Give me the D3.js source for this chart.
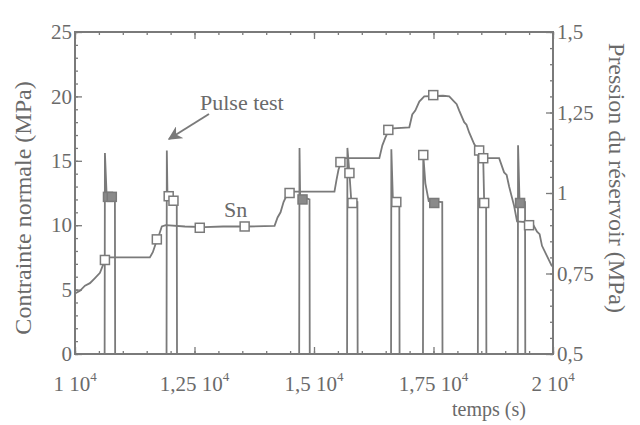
<!DOCTYPE html>
<html><head><meta charset="utf-8">
<script src="https://cdn.jsdelivr.net/npm/d3@7"></script>
<style>
body{margin:0;background:#fff;}
svg{display:block;}
text{font-family:"Liberation Serif","DejaVu Serif",serif;fill:#6a6a6a;}
</style></head><body>
<svg id="c" width="640" height="425"></svg>
<script>
// ---- data ----
const xTicks = [10000, 12500, 15000, 17500, 20000];
const xTickLabels = ["1 10", "1,25 10", "1,5 10", "1,75 10", "2 10"];
const yLeftTicks = [0, 5, 10, 15, 20, 25];
const yLeftLabels = ["0", "5", "10", "15", "20", "25"];
const yRightTicks = [0.5, 0.75, 1, 1.25, 1.5];
const yRightLabels = ["0,5", "0,75", "1", "1,25", "1,5"];

// Contrainte normale Sn (time s, MPa)
const snT = [10000,10104,10209,10313,10418,10522,10585,10647,11566,11628,11691,11754,11816,11900,12300,12700,13100,13600,14175,14238,14300,14363,14426,14509,15428,15470,15512,15574,15637,16367,16430,16493,16576,16994,17056,17119,17203,17307,17700,17829,17933,17985,18038,18142,18190,18246,18351,18455,18559,18873,18977,19030,19082,19186,19248,19562,19666,19720,19770,19875,19979];
const snV = [4.7,4.9,5.3,5.5,5.9,6.3,6.9,7.5,7.5,7.9,8.6,9.2,9.9,10.0,9.9,9.85,9.9,9.9,9.95,10.6,11.0,11.8,12.3,12.6,12.6,13.5,14.3,15.0,15.2,15.2,16.2,16.8,17.5,17.6,18.6,18.9,19.6,20.0,20.05,20.0,19.6,19.4,18.9,18.0,17.8,17.2,16.3,15.7,15.2,15.2,14.1,13.9,13.0,11.5,10.3,10.2,9.5,9.3,8.4,7.6,6.8];
const snMarkT = [10626,11712,12610,13549,14489,15553,16555,17495,18455,19499];
const snMarkV = [7.3,8.9,9.8,9.9,12.5,14.9,17.4,20.1,15.8,10.0];

// Pression du réservoir (time s, MPa)
const pT = [10000,10620,10626,10660,10700,10835,10840,
  11915,11921,11935,12000,12060,12129,12134,
  14690,14697,14710,14906,14911,
  15692,15699,15741,15780,15908,15913,
  16612,16618,16650,16785,16790,
  17280,17286,17330,17400,17683,17688,
  18428,18434,18455,18540,18560,18601,18606,
  19263,19269,19300,19415,19420,20000];
const pV = [0.5,0.5,1.124,1.0,0.988,0.988,0.5,
  0.5,1.132,0.99,0.985,0.975,0.975,0.5,
  0.5,1.14,0.99,0.98,0.5,
  0.5,1.14,1.062,0.975,0.972,0.5,
  0.5,1.136,0.98,0.975,0.5,
  0.5,1.118,1.03,0.975,0.972,0.5,
  0.5,1.14,1.13,1.108,0.972,0.972,0.5,
  0.5,1.148,0.975,0.972,0.5,0.5];
const pMarkT = [10690,10770,11960,12060,14760,15741,15804,16722,17286,17516,18540,18560,19311];
const pMarkV = [0.988,0.988,0.99,0.976,0.98,1.062,0.969,0.972,1.118,0.969,1.108,0.969,0.969];
const pMarkFill = [1,1,0,0,1,0,0,0,0,1,0,0,1];

// ---- drawing ----
const L = 75, R = 553, T = 32, B = 354;
const gray = "#7a7a7a";
const svg = d3.select("#c");
const x = d3.scaleLinear().domain([10000, 20000]).range([L, R]);
const yL = d3.scaleLinear().domain([0, 25]).range([B, T]);
const yR = d3.scaleLinear().domain([0.5, 1.5]).range([B, T]);

function styleAxis(g){
  g.selectAll("path").remove();
  g.selectAll("line").attr("stroke", gray).attr("stroke-width", 1.3);
}
// minor ticks
svg.append("g").attr("transform",`translate(0,${B})`)
  .call(d3.axisBottom(x).tickValues(d3.range(10000,20001,500)).tickSize(-3).tickFormat("")).call(styleAxis);
svg.append("g").attr("transform",`translate(0,${T})`)
  .call(d3.axisTop(x).tickValues(d3.range(10000,20001,500)).tickSize(-3).tickFormat("")).call(styleAxis);
svg.append("g").attr("transform",`translate(${L},0)`)
  .call(d3.axisLeft(yL).tickValues(d3.range(0,26,1)).tickSize(-3).tickFormat("")).call(styleAxis);
svg.append("g").attr("transform",`translate(${R},0)`)
  .call(d3.axisRight(yR).tickValues(d3.range(0.5,1.501,0.05)).tickSize(-3).tickFormat("")).call(styleAxis);
// major ticks
svg.append("g").attr("transform",`translate(0,${B})`)
  .call(d3.axisBottom(x).tickValues(xTicks).tickSize(-7).tickFormat("")).call(styleAxis);
svg.append("g").attr("transform",`translate(0,${T})`)
  .call(d3.axisTop(x).tickValues(xTicks).tickSize(-7).tickFormat("")).call(styleAxis);
const gl = svg.append("g").attr("transform",`translate(${L},0)`)
  .call(d3.axisLeft(yL).tickValues(yLeftTicks).tickSize(-7).tickPadding(3).tickFormat((d,i)=>yLeftLabels[i])).call(styleAxis);
gl.selectAll("text").attr("font-size",21).attr("fill","#6a6a6a").style("font-family","Liberation Serif");
const gr = svg.append("g").attr("transform",`translate(${R},0)`)
  .call(d3.axisRight(yR).tickValues(yRightTicks).tickSize(-7).tickPadding(4).tickFormat((d,i)=>yRightLabels[i])).call(styleAxis);
gr.selectAll("text").attr("font-size",21).attr("fill","#6a6a6a").style("font-family","Liberation Serif");

// x tick labels with superscript
const xl = svg.append("g");
xTicks.forEach((v,i)=>{
  const t = xl.append("text").attr("x", x(v)).attr("y", 391).attr("text-anchor","middle").attr("font-size",21);
  t.append("tspan").text(xTickLabels[i]);
  t.append("tspan").text("4").attr("font-size",13).attr("dy",-10);
});

// frame
svg.append("rect").attr("x",L).attr("y",T).attr("width",R-L).attr("height",B-T)
  .attr("fill","none").attr("stroke",gray).attr("stroke-width",2);

// pressure line
const pData = pT.map((t,i)=>[t,pV[i]]);
svg.append("path").datum(pData).attr("fill","none").attr("stroke",gray).attr("stroke-width",1.8)
  .attr("d", d3.line().x(d=>x(d[0])).y(d=>yR(d[1])));
// Sn line
const snData = snT.map((t,i)=>[t,snV[i]]);
svg.append("path").datum(snData).attr("fill","none").attr("stroke",gray).attr("stroke-width",1.8)
  .attr("d", d3.line().x(d=>x(d[0])).y(d=>yL(d[1])));

const ms = 9;
svg.append("g").selectAll("rect").data(snMarkT.map((t,i)=>[t,snMarkV[i]])).join("rect")
  .attr("x",d=>x(d[0])-ms/2).attr("y",d=>yL(d[1])-ms/2).attr("width",ms).attr("height",ms)
  .attr("fill","#fff").attr("stroke",gray).attr("stroke-width",1.5);
svg.append("g").selectAll("rect").data(pMarkT.map((t,i)=>[t,pMarkV[i],pMarkFill[i]])).join("rect")
  .attr("x",d=>x(d[0])-ms/2).attr("y",d=>yR(d[1])-ms/2).attr("width",ms).attr("height",ms)
  .attr("fill",d=>d[2]?"#8a8a8a":"#fff").attr("stroke",gray).attr("stroke-width",1.5);

// annotations
svg.append("text").attr("x",200).attr("y",110).attr("font-size",22).text("Pulse test");
svg.append("defs").append("marker").attr("id","ah").attr("viewBox","0 0 10 10").attr("refX",9).attr("refY",5)
  .attr("markerWidth",7).attr("markerHeight",7).attr("orient","auto")
  .append("path").attr("d","M0,0 L10,5 L0,10 L3,5 Z").attr("fill",gray);
svg.append("line").attr("x1",209).attr("y1",114).attr("x2",169).attr("y2",139)
  .attr("stroke",gray).attr("stroke-width",2).attr("marker-end","url(#ah)");
svg.append("text").attr("x",224).attr("y",217).attr("font-size",22).text("Sn");

// axis titles
svg.append("text").attr("transform",`translate(31,${208}) rotate(-90)`).attr("text-anchor","middle")
  .attr("font-size",24).text("Contrainte normale (MPa)");
svg.append("text").attr("transform",`translate(609,${178}) rotate(90)`).attr("text-anchor","middle")
  .attr("font-size",24).text("Pression du réservoir (MPa)");
svg.append("text").attr("x",489).attr("y",416).attr("text-anchor","middle").attr("font-size",20).text("temps (s)");
</script>
</body></html>
